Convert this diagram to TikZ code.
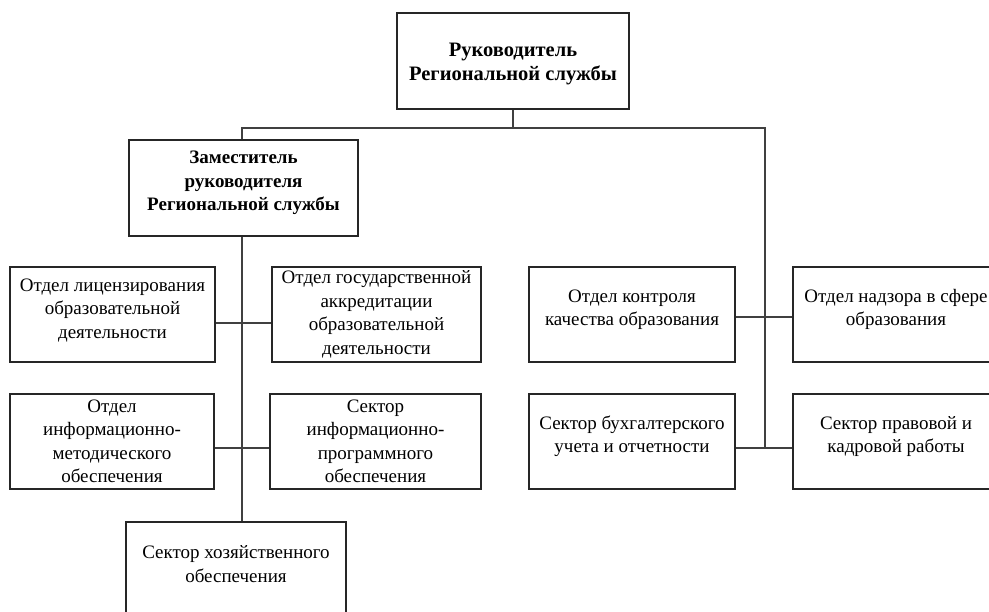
\documentclass[tikz,border=0pt]{standalone}
\usepackage{fontspec}
\setmainfont{Liberation Serif}
\begin{document}
\begin{tikzpicture}[x=1pt,y=-1pt,
  box/.style={draw=black!85,line width=1.3pt,inner sep=0pt},
  txt/.style={align=center,inner sep=0pt,text=black,
    font=\fontsize{19}{23.5}\selectfont},
  boldtxt/.style={txt,font=\fontsize{19}{23.5}\selectfont\bfseries},
  toptxt/.style={txt,font=\fontsize{20.5}{23.5}\selectfont\bfseries},
  link/.style={draw=black!75,line width=1.2pt}]
\useasboundingbox (0,0) rectangle (989,612);
\clip (0,0) rectangle (989,612);
\fill[white] (0,0) rectangle (989,612);
% boxes
\node[box,minimum width=232pt,minimum height=96pt,
  label={[toptxt,yshift=-3pt]center:{Руководитель\\Региональной службы}}] (top) at (513,61) {};
\node[box,minimum width=229pt,minimum height=96pt,
  label={[boldtxt,yshift=5pt]center:{Заместитель\\руководителя\\Региональной службы}}] (dep) at (243.5,188) {};
\node[box,minimum width=205pt,minimum height=95pt,
  label={[txt,yshift=4pt]center:{Отдел лицензирования\\образовательной\\деятельности}}] (l1) at (112.5,314.5) {};
\node[box,minimum width=209pt,minimum height=95pt,
  label={[txt]center:{Отдел государственной\\аккредитации\\образовательной\\деятельности}}] (r1) at (376.5,314.5) {};
\node[box,minimum width=204pt,minimum height=95pt,
  label={[txt]center:{Отдел\\информационно-\\методического\\обеспечения}}] (l2) at (112,441.5) {};
\node[box,minimum width=211pt,minimum height=95pt,
  label={[txt]center:{Сектор\\информационно-\\программного\\обеспечения}}] (r2) at (375.5,441.5) {};
\node[box,minimum width=220pt,minimum height=100pt,
  label={[txt,yshift=8pt]center:{Сектор хозяйственного\\обеспечения}}] (sh) at (236,572) {};
\node[box,minimum width=206pt,minimum height=95pt,
  label={[txt,yshift=5pt]center:{Отдел контроля\\качества образования}}] (c1) at (632,314.5) {};
\node[box,minimum width=206pt,minimum height=95pt,
  label={[txt,yshift=5pt]center:{Отдел надзора в сфере\\образования}}] (d1) at (896,314.5) {};
\node[box,minimum width=206pt,minimum height=95pt,
  label={[txt,yshift=5pt]center:{Сектор бухгалтерского\\учета и отчетности}}] (c2) at (632,441.5) {};
\node[box,minimum width=206pt,minimum height=95pt,
  label={[txt,yshift=5pt]center:{Сектор правовой и\\кадровой работы}}] (d2) at (896,441.5) {};
% helper coordinates
\coordinate (busL) at (242,128);
\coordinate (busR) at (765,128);
\coordinate (row1L) at (0,323);
\coordinate (row2) at (0,448);
\coordinate (row1R) at (0,317);
% connectors
\draw[link] (top.south) -- (top.south |- busL);
\draw[link] (dep.north -| busL) -- (busL) -- (busR) -- (busR |- row2);
\draw[link] (dep.south -| busL) -- (sh.north -| busL);
\draw[link] (l1.east |- row1L) -- (r1.west |- row1L);
\draw[link] (l2.east |- row2) -- (r2.west |- row2);
\draw[link] (c1.east |- row1R) -- (d1.west |- row1R);
\draw[link] (c2.east |- row2) -- (d2.west |- row2);
\end{tikzpicture}
\end{document}
